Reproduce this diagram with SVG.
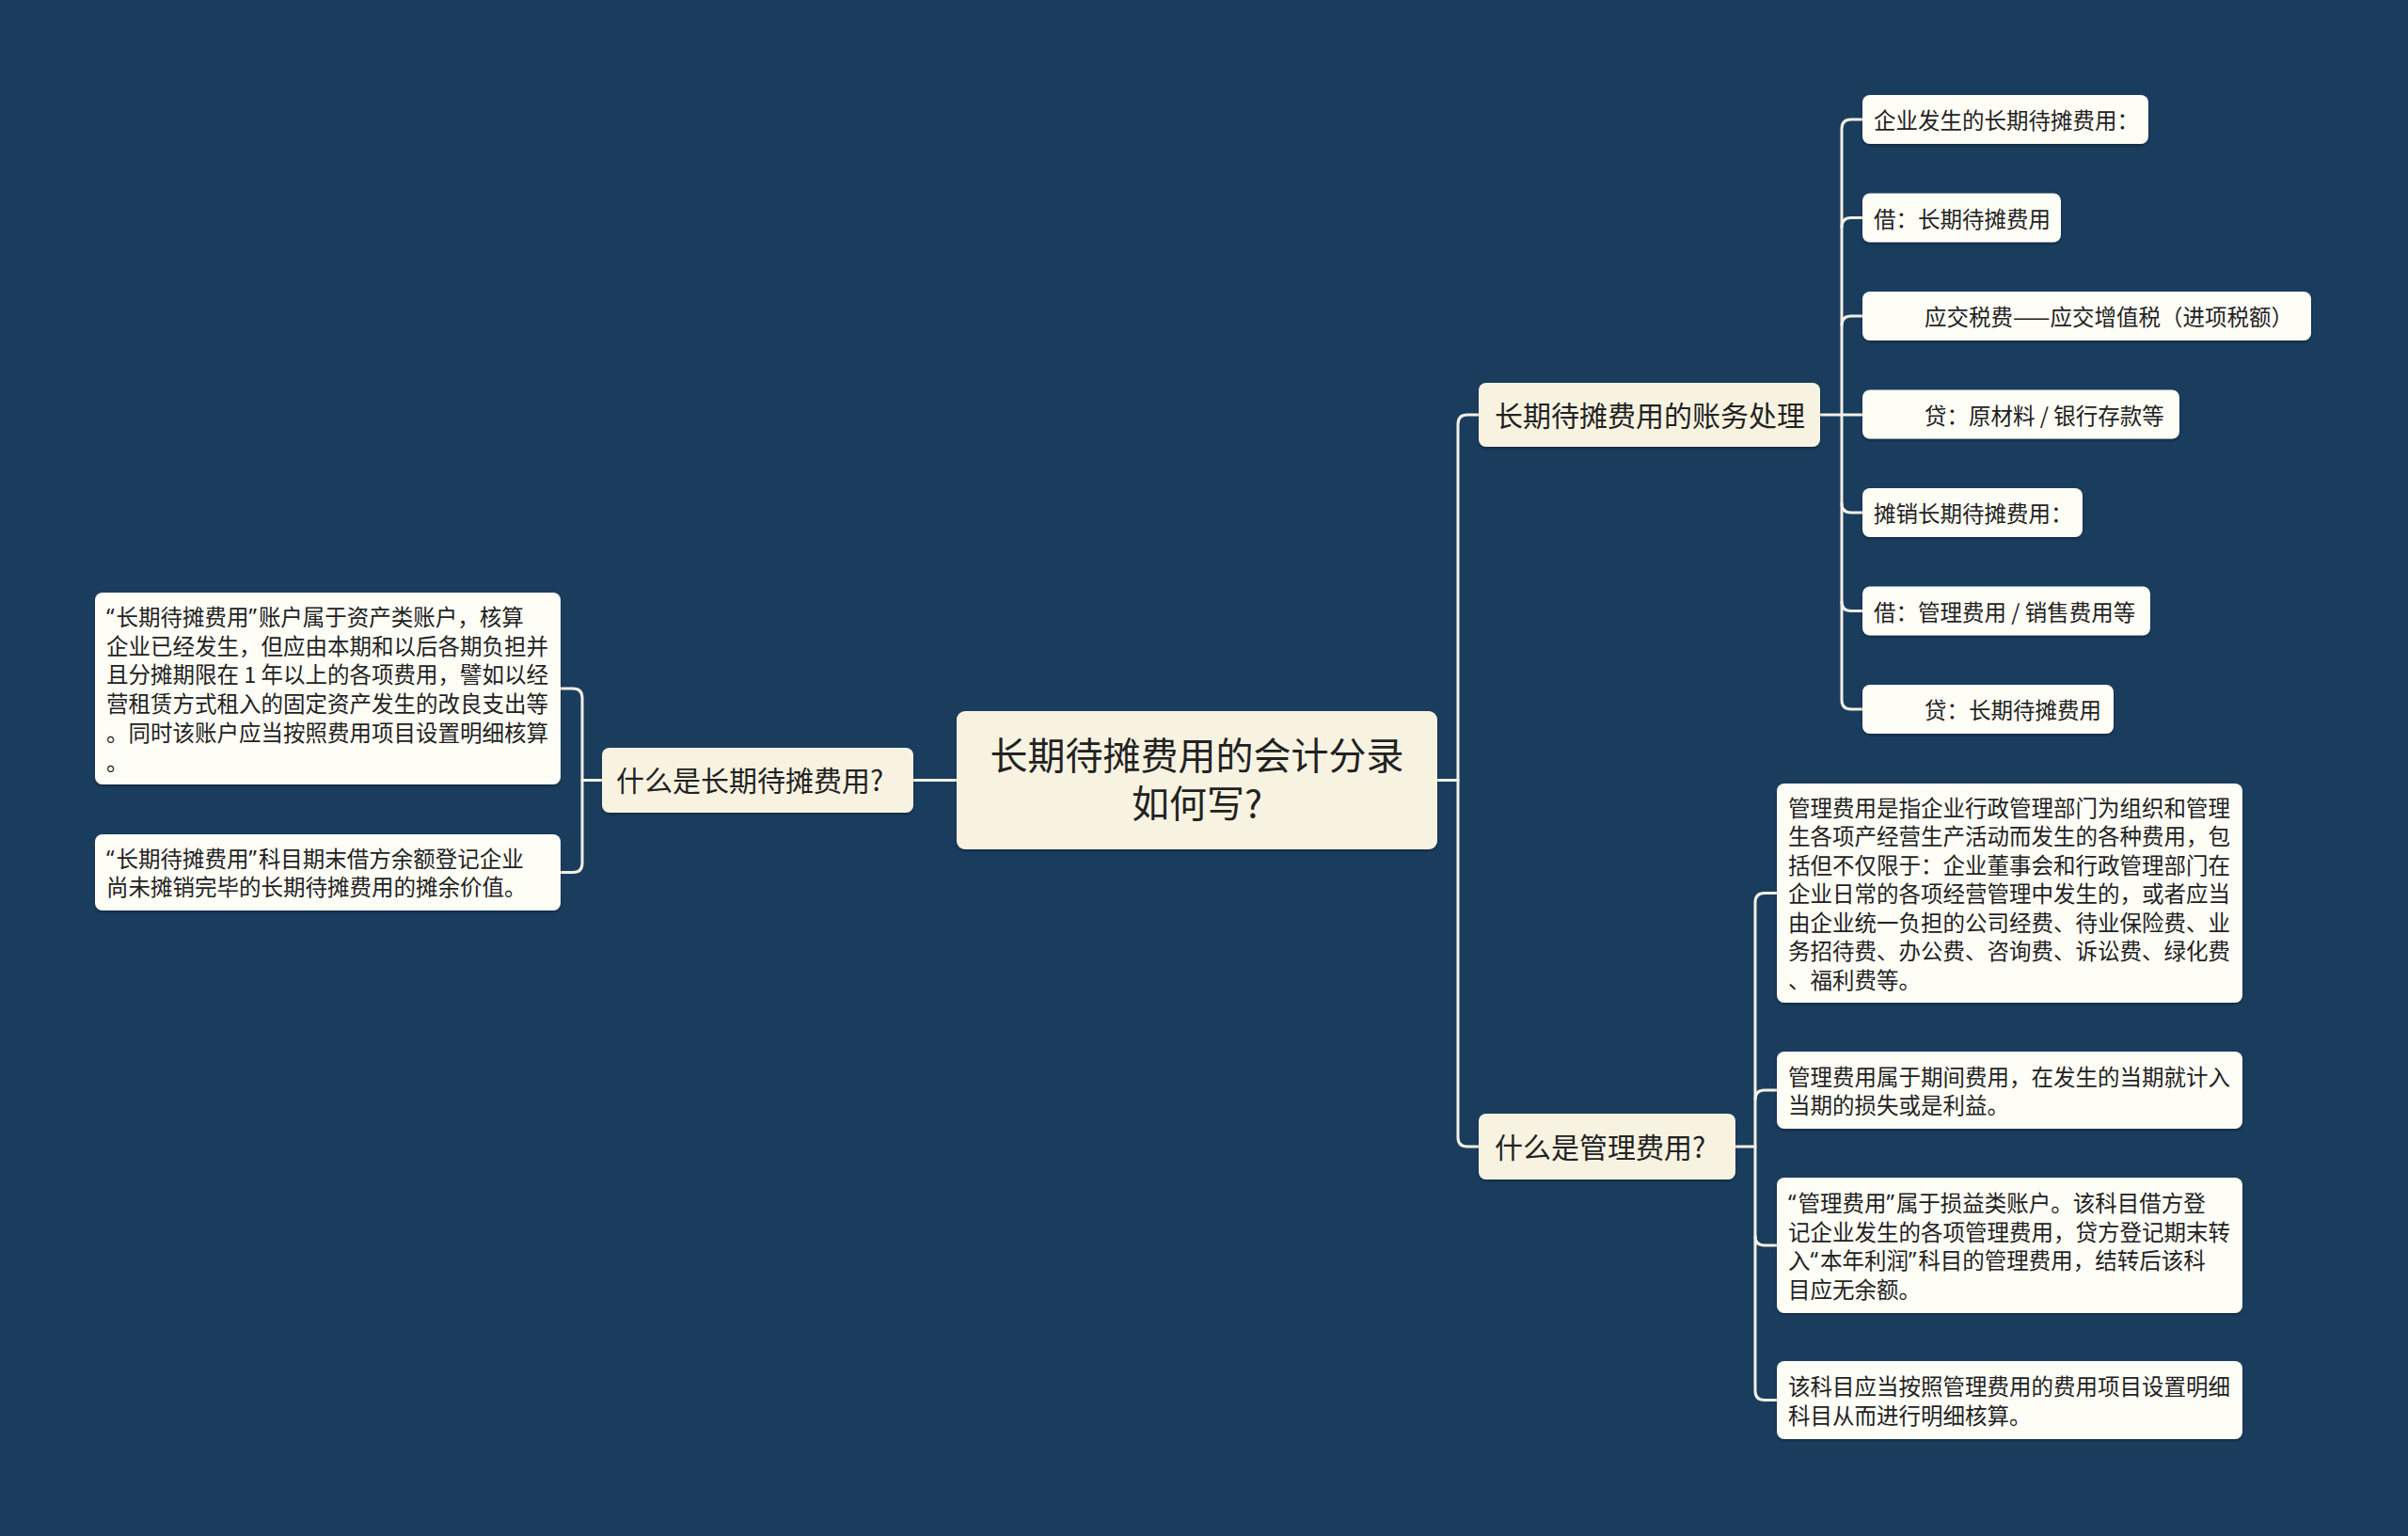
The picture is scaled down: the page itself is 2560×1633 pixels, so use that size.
<svg xmlns="http://www.w3.org/2000/svg" width="2560" height="1633" viewBox="0 0 2560 1633">
<defs>
<filter id="sh" x="-5%" y="-10%" width="110%" height="130%">
<feDropShadow dx="0" dy="2" stdDeviation="1.5" flood-color="#000" flood-opacity="0.3"/>
</filter>
<style>
text{font-family:"Noto Sans CJK SC","Noto Sans",sans-serif;fill:#222;dominant-baseline:central}
.q{font-family:"Noto Sans","Noto Sans CJK SC",sans-serif;letter-spacing:2px}
.root rect{fill:#f8f3e1;filter:url(#sh)}
.branch rect{fill:#f8f3e1;filter:url(#sh)}
.leaf rect{fill:#fefdf6;filter:url(#sh)}
.root text{font-size:40px;text-anchor:middle}
.branch text{font-size:30px}
.leaf text{font-size:23.5px}
.conn path{fill:none;stroke:#f4f0e4;stroke-width:3;stroke-linecap:round}
</style>
</defs>
<rect width="2560" height="1633" fill="#1a3d5e"/>

<g id="connectors" class="conn">
<path d="M1017 829.5 H971"/>
<path d="M640 829.5 H619"/>
<path d="M596 732 H609 Q619 732 619 742 V917.5 Q619 927.5 609 927.5 H596"/>
<path d="M1528 829.5 H1550"/>
<path d="M1572 441 H1560 Q1550 441 1550 451 V1209 Q1550 1219 1560 1219 H1572"/>
<path d="M1935 441 H1980"/>
<path d="M1980 127 H1968 Q1958 127 1958 137 V744 Q1958 754 1968 754 H1980"/>
<path d="M1958 241.5 Q1958 231.5 1968 231.5 H1980"/>
<path d="M1958 346 Q1958 336 1968 336 H1980"/>
<path d="M1958 535 Q1958 545 1968 545 H1980"/>
<path d="M1958 639.5 Q1958 649.5 1968 649.5 H1980"/>
<path d="M1845 1219 H1866"/>
<path d="M1889 949.5 H1876 Q1866 949.5 1866 959.5 V1478.5 Q1866 1488.5 1876 1488.5 H1889"/>
<path d="M1866 1169 Q1866 1159 1876 1159 H1889"/>
<path d="M1866 1314 Q1866 1324 1876 1324 H1889"/>
</g>

<g id="root" class="root">
<rect x="1017" y="756" width="511" height="147" rx="9"/>
<text x="1272.5" y="801"><tspan x="1272.5" y="801">长期待摊费用的会计分录</tspan><tspan x="1272.5" y="852">如何写?</tspan></text>
</g>

<g id="b-left" class="branch">
<rect x="640" y="795" width="331" height="69" rx="8"/>
<text x="655" y="828">什么是长期待摊费用?</text>
</g>

<g id="l-left-1" class="leaf">
<rect x="101" y="630" width="495" height="204" rx="8"/>
<text x="113" y="655"><tspan class="q">“</tspan>长期待摊费用<tspan class="q">”</tspan>账户属于资产类账户，核算</text>
<text x="113" y="685.7">企业已经发生，但应由本期和以后各期负担并</text>
<text x="113" y="716.4">且分摊期限在 1 年以上的各项费用，譬如以经</text>
<text x="113" y="747.1">营租赁方式租入的固定资产发生的改良支出等</text>
<text x="113" y="777.8">。同时该账户应当按照费用项目设置明细核算</text>
<text x="113" y="808.5">。</text>
</g>

<g id="l-left-2" class="leaf">
<rect x="101" y="887" width="495" height="81" rx="8"/>
<text x="113" y="911.5"><tspan class="q">“</tspan>长期待摊费用<tspan class="q">”</tspan>科目期末借方余额登记企业</text>
<text x="113" y="942.2">尚未摊销完毕的长期待摊费用的摊余价值。</text>
</g>

<g id="b-right-1" class="branch">
<rect x="1572" y="407" width="363" height="68" rx="8"/>
<text x="1589" y="439.5">长期待摊费用的账务处理</text>
</g>

<g id="r1-1" class="leaf">
<rect x="1980" y="101" width="304" height="52" rx="8"/>
<text x="1992" y="127">企业发生的长期待摊费用：</text>
</g>
<g id="r1-2" class="leaf">
<rect x="1980" y="205.5" width="211" height="52" rx="8"/>
<text x="1992" y="231.5">借：长期待摊费用</text>
</g>
<g id="r1-3" class="leaf">
<rect x="1980" y="310" width="477" height="52" rx="8"/>
<text x="2046" y="336">应交税费——应交增值税（进项税额）</text>
</g>
<g id="r1-4" class="leaf">
<rect x="1980" y="414.5" width="337" height="52" rx="8"/>
<text x="2046" y="440.5">贷：原材料 / 银行存款等</text>
</g>
<g id="r1-5" class="leaf">
<rect x="1980" y="519" width="234" height="52" rx="8"/>
<text x="1992" y="545">摊销长期待摊费用：</text>
</g>
<g id="r1-6" class="leaf">
<rect x="1980" y="623.5" width="306" height="52" rx="8"/>
<text x="1992" y="649.5">借：管理费用 / 销售费用等</text>
</g>
<g id="r1-7" class="leaf">
<rect x="1980" y="728" width="267" height="52" rx="8"/>
<text x="2046" y="754">贷：长期待摊费用</text>
</g>

<g id="b-right-2" class="branch">
<rect x="1572" y="1184" width="273" height="70" rx="8"/>
<text x="1589" y="1217.5">什么是管理费用?</text>
</g>

<g id="r2-1" class="leaf">
<rect x="1889" y="833" width="495" height="233" rx="8"/>
<text x="1901" y="857.5">管理费用是指企业行政管理部门为组织和管理</text>
<text x="1901" y="888">生各项产经营生产活动而发生的各种费用，包</text>
<text x="1901" y="918.5">括但不仅限于：企业董事会和行政管理部门在</text>
<text x="1901" y="949">企业日常的各项经营管理中发生的，或者应当</text>
<text x="1901" y="979.5">由企业统一负担的公司经费、待业保险费、业</text>
<text x="1901" y="1010">务招待费、办公费、咨询费、诉讼费、绿化费</text>
<text x="1901" y="1040.5">、福利费等。</text>
</g>
<g id="r2-2" class="leaf">
<rect x="1889" y="1118" width="495" height="82" rx="8"/>
<text x="1901" y="1143.5">管理费用属于期间费用，在发生的当期就计入</text>
<text x="1901" y="1174">当期的损失或是利益。</text>
</g>
<g id="r2-3" class="leaf">
<rect x="1889" y="1252" width="495" height="144" rx="8"/>
<text x="1901" y="1278"><tspan class="q">“</tspan>管理费用<tspan class="q">”</tspan>属于损益类账户。该科目借方登</text>
<text x="1901" y="1308.5">记企业发生的各项管理费用，贷方登记期末转</text>
<text x="1901" y="1339">入<tspan class="q">“</tspan>本年利润<tspan class="q">”</tspan>科目的管理费用，结转后该科</text>
<text x="1901" y="1369.5">目应无余额。</text>
</g>
<g id="r2-4" class="leaf">
<rect x="1889" y="1447" width="495" height="83" rx="8"/>
<text x="1901" y="1473">该科目应当按照管理费用的费用项目设置明细</text>
<text x="1901" y="1503.5">科目从而进行明细核算。</text>
</g>
</svg>
